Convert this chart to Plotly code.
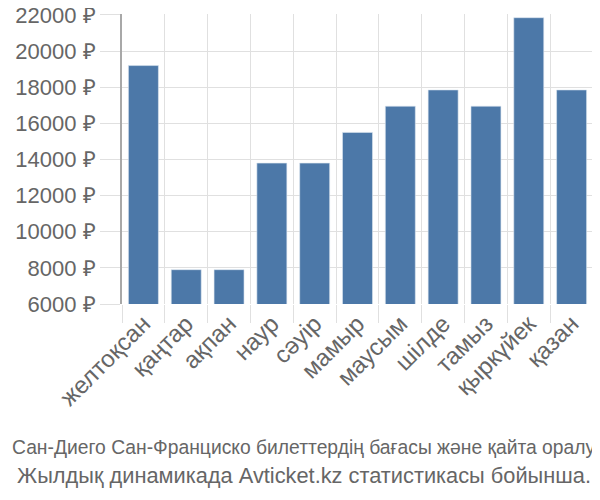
import plotly.graph_objects as go

months = ["желтоқсан", "қаңтар", "ақпан", "наур", "сәуір", "мамыр",
          "маусым", "шілде", "тамыз", "қыркүйек", "қазан"]
prices = [19200, 7900, 7900, 13800, 13800, 15500, 16950, 17850, 16950, 21850, 17850]
y_ticks = [6000, 8000, 10000, 12000, 14000, 16000, 18000, 20000, 22000]
y_labels = [f"{v} ₽" for v in y_ticks]
caption1 = "Сан-Диего Сан-Франциско билеттердің бағасы және қайта оралу"
caption2 = "Жылдық динамикада Avticket.kz статистикасы бойынша."

fig = go.Figure(go.Bar(
    x=months, y=prices,
    marker=dict(color="#4c78a8", line=dict(color="#dce6f0", width=0.6)),
))

font_main = "Liberation Sans, Arial, sans-serif"
# the page body has an 8px margin, so the figure is sized/offset to compensate
fig.update_layout(
    width=592, height=492,
    margin=dict(l=114, r=7, t=6, b=196, autoexpand=False),
    paper_bgcolor="white", plot_bgcolor="white",
    bargap=0.3,
    showlegend=False,
    font=dict(family=font_main, size=21, color="#666666"),
    xaxis=dict(
        automargin=False,
        tickson="boundaries", showgrid=True, gridcolor="#e0e0e0", gridwidth=1,
        ticks="outside", ticklen=18, tickcolor="#e0e0e0",
        tickangle=-45, tickfont=dict(size=24, color="#666666"),
        showline=False, zeroline=False,
    ),
    yaxis=dict(
        automargin=False,
        range=[6000, 22055], tickvals=y_ticks, ticktext=y_labels,
        showgrid=True, gridcolor="#e0e0e0", gridwidth=1,
        ticks="outside", ticklen=20, tickcolor="#e0e0e0",
        ticklabeloverflow="allow",
        showline=True, linecolor="#a8a8a8", linewidth=2,
        zeroline=False, tickfont=dict(size=22, color="#666666"),
    ),
    annotations=[
        dict(text=caption1, xref="paper", yref="paper", x=(296 - 114) / 471, y=0,
             xanchor="center", yanchor="middle", yshift=-143, showarrow=False,
             font=dict(family=font_main, size=19.3, color="#666666")),
        dict(text=caption2, xref="paper", yref="paper", x=(296 - 114) / 471, y=0,
             xanchor="center", yanchor="middle", yshift=-171, showarrow=False,
             font=dict(family=font_main, size=21.8, color="#666666")),
    ],
)

fig.write_html("out.html")
